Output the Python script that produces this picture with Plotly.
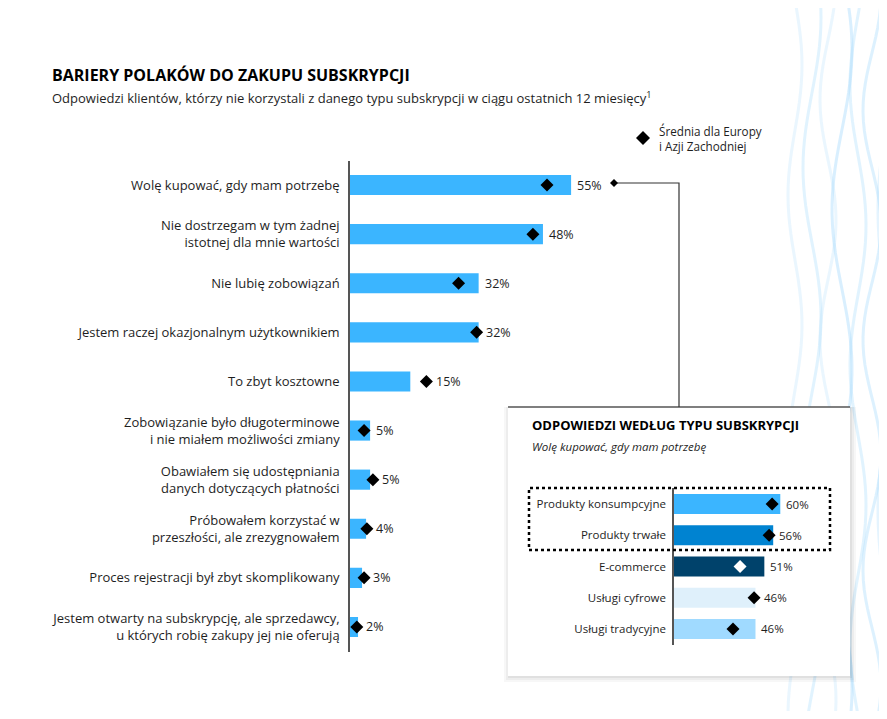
import plotly.graph_objects as go
import numpy as np

# page body adds an 8px margin, so the figure is drawn 16px smaller and shifted
OFF = 8
W, H = 887 - 2 * OFF, 719 - 2 * OFF

# main chart data
barriers = [
    "Wolę kupować, gdy mam potrzebę",
    "Nie dostrzegam w tym żadnej<br>istotnej dla mnie wartości",
    "Nie lubię zobowiązań",
    "Jestem raczej okazjonalnym użytkownikiem",
    "To zbyt kosztowne",
    "Zobowiązanie było długoterminowe<br>i nie miałem możliwości zmiany",
    "Obawiałem się udostępniania<br>danych dotyczących płatności",
    "Próbowałem korzystać w<br>przeszłości, ale zrezygnowałem",
    "Proces rejestracji był zbyt skomplikowany",
    "Jestem otwarty na subskrypcję, ale sprzedawcy,<br>u których robię zakupy jej nie oferują",
]
poland = [55, 48, 32, 32, 15, 5, 5, 4, 3, 2]
europe_avg = [49, 45.5, 27, 31.5, 19, 3.5, 5.7, 4.2, 3.5, 1.7]

# inset data
sub_types = ["Produkty konsumpcyjne", "Produkty trwałe", "E-commerce",
             "Usługi cyfrowe", "Usługi tradycyjne"]
sub_values = [60, 56, 51, 46, 46]
sub_avg = [55.4, 53.7, 37.3, 45.2, 33.3]
sub_colors = ["#3bb5ff", "#0083d1", "#00426b", "#dff0fb", "#a0daff"]
sub_marker_colors = ["black", "black", "white", "black", "black"]

TXT = "#1e1e1e"
FONT = "Open Sans"


def px(x):
    return (x - OFF) / W


def py(y):
    return 1 - (y - OFF) / H


fig = go.Figure()

fig.add_trace(go.Bar(
    x=poland, y=barriers, orientation="h", width=0.41,
    marker=dict(color="#3bb5ff", line=dict(width=0)),
    xaxis="x", yaxis="y", hoverinfo="x+y"))
fig.add_trace(go.Scatter(
    x=europe_avg, y=barriers, mode="markers",
    marker=dict(symbol="diamond", size=10, color="black"),
    xaxis="x", yaxis="y", hoverinfo="x+y", cliponaxis=False))

fig.add_trace(go.Bar(
    x=sub_values, y=sub_types, orientation="h", width=0.64,
    marker=dict(color=sub_colors, line=dict(width=0)),
    xaxis="x2", yaxis="y2", hoverinfo="x+y"))
fig.add_trace(go.Scatter(
    x=sub_avg, y=sub_types, mode="markers",
    marker=dict(symbol="diamond", size=10, color=sub_marker_colors),
    xaxis="x2", yaxis="y2", hoverinfo="x+y", cliponaxis=False))

annotations = []
for cat, v, a in zip(barriers, poland, europe_avg):
    annotations.append(dict(text=f"{v}%", x=max(v, a + 0.8), y=cat, xref="x", yref="y",
                            xanchor="left", yanchor="middle", xshift=4, showarrow=False,
                            font=dict(family=FONT, size=12.5, color=TXT)))
for cat, v, a in zip(sub_types, sub_values, sub_avg):
    annotations.append(dict(text=f"{v}%", x=max(v, a + 2), y=cat, xref="x2", yref="y2",
                            xanchor="left", yanchor="middle", xshift=4, showarrow=False,
                            font=dict(family=FONT, size=11.5, color=TXT)))

shapes = []

# decorative wavy lines on the right
yy = np.linspace(-10, 730, 80)
for base, amp, per, ph, col in [
        (795, 7, 260, 0.0, "rgba(170,220,252,0.25)"),
        (812, 9, 300, 1.2, "rgba(170,220,252,0.35)"),
        (828, 8, 240, 2.1, "rgba(170,220,252,0.25)"),
        (842, 10, 320, 0.6, "rgba(170,220,252,0.45)"),
        (858, 8, 280, 2.8, "rgba(170,220,252,0.35)"),
        (872, 9, 230, 1.7, "rgba(170,220,252,0.4)"),
        (884, 6, 300, 0.3, "rgba(170,220,252,0.3)")]:
    xs = base + amp * np.sin(yy / per * 2 * np.pi + ph)
    d = "M " + " L ".join(f"{px(a):.5f},{py(b):.5f}" for a, b in zip(xs, yy))
    shapes.append(dict(type="path", path=d, xref="paper", yref="paper",
                       line=dict(color=col, width=3), layer="below"))

# inset box with soft shadow
for off, alpha in [(6, 0.03), (4, 0.04), (2, 0.05)]:
    shapes.append(dict(type="rect", xref="paper", yref="paper",
                       x0=px(508 - off + 2), x1=px(850 + off), y0=py(676 + off), y1=py(407),
                       fillcolor=f"rgba(0,0,0,{alpha})", line=dict(width=0), layer="below"))
shapes.append(dict(type="rect", xref="paper", yref="paper",
                   x0=px(508), x1=px(850), y0=py(676), y1=py(407),
                   fillcolor="white", line=dict(width=0), layer="below"))
shapes.append(dict(type="line", xref="paper", yref="paper",
                   x0=px(508), x1=px(850), y0=py(407), y1=py(407),
                   line=dict(color="#555555", width=1.5)))
# connector from first bar to the inset
shapes.append(dict(type="path", xref="paper", yref="paper",
                   path=f"M {px(614)},{py(183)} L {px(679)},{py(183)} L {px(679)},{py(407)}",
                   line=dict(color="#333333", width=1.2)))
shapes.append(dict(type="path", xref="paper", yref="paper",
                   path=f"M {px(614)},{py(179)} L {px(618)},{py(183)} L {px(614)},{py(187)} L {px(610)},{py(183)} Z",
                   fillcolor="black", line=dict(width=0)))
# legend diamond
shapes.append(dict(type="path", xref="paper", yref="paper",
                   path=f"M {px(643)},{py(131)} L {px(650)},{py(138)} L {px(643)},{py(145)} L {px(636)},{py(138)} Z",
                   fillcolor="black", line=dict(width=0)))
# dotted frame around the product rows
shapes.append(dict(type="rect", xref="paper", yref="paper",
                   x0=px(529), x1=px(830), y0=py(550), y1=py(488),
                   line=dict(color="black", width=2.5, dash="dot")))

texts = [
    dict(text="<b>BARIERY POLAKÓW DO ZAKUPU SUBSKRYPCJI</b>", x=px(50), y=py(75),
         font=dict(family=FONT, size=16, color="black")),
    dict(text="Odpowiedzi klientów, którzy nie korzystali z danego typu subskrypcji "
              "w ciągu ostatnich 12 miesięcy<sup>1</sup>", x=px(50), y=py(97),
         font=dict(family=FONT, size=13, color=TXT)),
    dict(text="Średnia dla Europy<br>i Azji Zachodniej", x=px(657), y=py(138),
         font=dict(family=FONT, size=11.7, color=TXT), align="left"),
    dict(text="<b>ODPOWIEDZI WEDŁUG TYPU SUBSKRYPCJI</b>", x=px(530), y=py(425),
         font=dict(family=FONT, size=13, color="black")),
    dict(text="<i>Wolę kupować, gdy mam potrzebę</i>", x=px(530), y=py(446),
         font=dict(family=FONT, size=11.5, color=TXT)),
]
for a in texts:
    a.update(xref="paper", yref="paper", xanchor="left", yanchor="middle",
             showarrow=False)
annotations += texts

fig.update_layout(
    width=W, height=H,
    margin=dict(l=0, r=0, t=0, b=0),
    paper_bgcolor="white", plot_bgcolor="rgba(0,0,0,0)",
    showlegend=False,
    font=dict(family=FONT, color=TXT),
    xaxis=dict(domain=[px(350), px(611.3)], range=[0, 65], visible=False),
    yaxis=dict(domain=[py(651.5), py(160.5)], range=[9.5, -0.5], type="category",
               showline=True, linecolor="#555555", linewidth=1.5, ticks="",
               showgrid=False, ticklabelstandoff=6,
               tickfont=dict(family=FONT, size=13, color=TXT)),
    xaxis2=dict(domain=[px(674), px(798)], range=[0, 70], visible=False, anchor="y2"),
    yaxis2=dict(domain=[py(644.6), py(488.4)], range=[4.5, -0.5], type="category",
                anchor="x2", showline=True, linecolor="#555555", linewidth=1.5,
                ticks="", showgrid=False, ticklabelstandoff=4,
                tickfont=dict(family=FONT, size=11.5, color=TXT)),
    shapes=shapes,
    annotations=annotations,
)

fig.write_html("out.html")
